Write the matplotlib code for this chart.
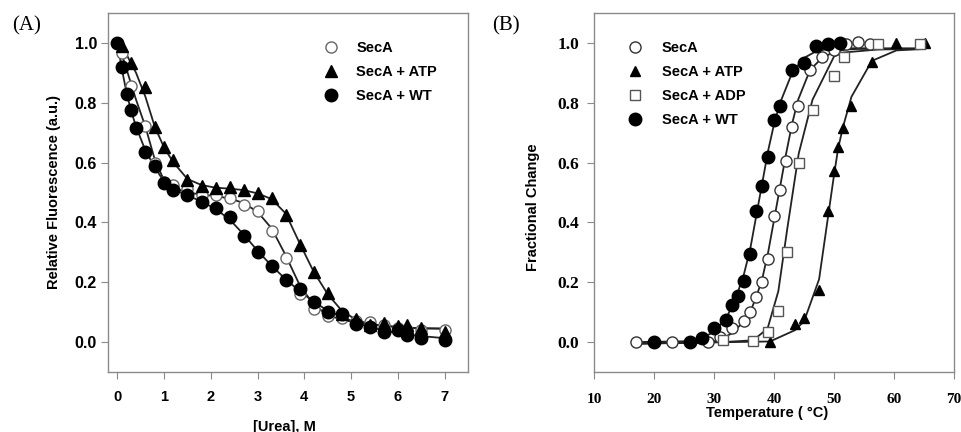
import matplotlib
matplotlib.use("Agg")
import matplotlib.pyplot as plt

# ---------------- Panel A data: urea denaturation ----------------
urea_wt = [0, 0.1, 0.2, 0.3, 0.4, 0.6, 0.8, 1.0, 1.2, 1.5, 1.8, 2.1, 2.4, 2.7, 3.0,
           3.3, 3.6, 3.9, 4.2, 4.5, 4.8, 5.1, 5.4, 5.7, 6.0, 6.2, 6.5, 7.0]
fluo_wt = [1.0, 0.92, 0.83, 0.775, 0.714, 0.634, 0.588, 0.531, 0.508, 0.49, 0.469, 0.448,
           0.418, 0.356, 0.30, 0.255, 0.207, 0.177, 0.134, 0.102, 0.094, 0.061, 0.049,
           0.034, 0.041, 0.022, 0.013, 0.008]

urea_seca = [0, 0.1, 0.3, 0.6, 0.8, 1.0, 1.2, 1.5, 1.8, 2.1, 2.4, 2.7, 3.0, 3.3, 3.6,
             3.9, 4.2, 4.5, 4.8, 5.1, 5.4, 5.7, 6.0, 6.2, 6.5, 7.0]
fluo_seca = [1.0, 0.967, 0.856, 0.723, 0.60, 0.535, 0.525, 0.512, 0.493, 0.492, 0.481,
             0.459, 0.438, 0.371, 0.282, 0.16, 0.111, 0.088, 0.08, 0.069, 0.067, 0.058,
             0.047, 0.041, 0.039, 0.039]

urea_atp = [0.1, 0.3, 0.6, 0.8, 1.0, 1.2, 1.5, 1.8, 2.1, 2.4, 2.7, 3.0, 3.3, 3.6, 3.9,
            4.2, 4.5, 4.8, 5.1, 5.4, 5.7, 6.0, 6.2, 6.5, 7.0]
fluo_atp = [0.99, 0.933, 0.853, 0.72, 0.653, 0.607, 0.542, 0.523, 0.514, 0.518, 0.509,
            0.498, 0.482, 0.424, 0.324, 0.235, 0.165, 0.095, 0.076, 0.058, 0.065, 0.054,
            0.058, 0.047, 0.035]

# fitted curves
urea_fit = [0, 0.1, 0.2, 0.3, 0.4, 0.6, 0.8, 1.0, 1.2, 1.5, 1.8, 2.1, 2.4, 2.7, 3.0,
            3.3, 3.6, 3.9, 4.2, 4.5, 4.8, 5.1, 5.4, 5.7, 6.0, 6.2, 6.5, 7.0]
fit_wt = [1.0, 0.91, 0.83, 0.77, 0.72, 0.64, 0.585, 0.535, 0.51, 0.49, 0.47, 0.445, 0.41,
          0.36, 0.305, 0.255, 0.21, 0.17, 0.135, 0.105, 0.085, 0.065, 0.05, 0.038, 0.03,
          0.025, 0.02, 0.013]
fit_seca = [1.0, 0.96, 0.91, 0.86, 0.81, 0.72, 0.61, 0.54, 0.515, 0.50, 0.493, 0.488,
            0.48, 0.465, 0.435, 0.38, 0.29, 0.19, 0.125, 0.09, 0.075, 0.065, 0.06, 0.055,
            0.05, 0.048, 0.046, 0.045]
fit_atp = [1.0, 0.985, 0.96, 0.93, 0.90, 0.82, 0.72, 0.65, 0.60, 0.545, 0.525, 0.516,
           0.513, 0.508, 0.497, 0.478, 0.43, 0.33, 0.235, 0.16, 0.105, 0.075, 0.06, 0.055,
           0.05, 0.048, 0.046, 0.045]

# ---------------- Panel B data: thermal denaturation ----------------
temp_seca = [17, 23, 29, 31, 33, 35, 36, 37, 38, 39, 40, 41, 42, 43, 44, 46, 48, 50, 52, 54, 56]
frac_seca = [0.0, 0.0, 0.0, 0.017, 0.047, 0.071, 0.102, 0.152, 0.2, 0.277, 0.42, 0.507,
             0.604, 0.72, 0.79, 0.908, 0.952, 0.978, 0.997, 1.003, 0.998]

temp_atp = [39.3, 43.5, 45.0, 47.5, 49.0, 50.0, 50.7, 51.5, 52.9, 56.3, 60.4, 65.2]
frac_atp = [0.0, 0.06, 0.08, 0.174, 0.438, 0.573, 0.651, 0.717, 0.789, 0.937, 1.0, 1.0]

temp_adp = [31.5, 36.5, 38.9, 40.7, 42.2, 44.1, 46.4, 50.0, 51.6, 57.3, 64.4]
frac_adp = [0.008, 0.004, 0.035, 0.105, 0.30, 0.60, 0.775, 0.889, 0.952, 0.998, 0.998]

temp_wt = [20, 26, 28, 30, 32, 33, 34, 35, 36, 37, 38, 39, 40, 41, 43, 45, 47, 49, 51]
frac_wt = [0.0, 0.0, 0.015, 0.047, 0.074, 0.124, 0.154, 0.204, 0.294, 0.438, 0.521,
           0.617, 0.743, 0.789, 0.908, 0.933, 0.989, 0.997, 1.0]

# fitted curves
tfit_seca = [17, 29, 31, 33, 35, 36, 37, 38, 39, 40, 41, 42, 43, 44, 46, 48, 50, 52, 54, 65]
ffit_seca = [-0.005, -0.002, 0.008, 0.03, 0.07, 0.10, 0.15, 0.21, 0.30, 0.41, 0.52, 0.63,
             0.73, 0.81, 0.91, 0.95, 0.97, 0.978, 0.98, 0.98]
tfit_atp = [17, 39.3, 43.5, 45.0, 47.5, 49.0, 50.0, 50.7, 51.5, 52.9, 56.3, 60.4, 65.2]
ffit_atp = [-0.005, 0.002, 0.04, 0.07, 0.21, 0.42, 0.56, 0.65, 0.72, 0.82, 0.94, 0.975, 0.98]
tfit_adp = [17, 31.5, 36.5, 38.9, 40.7, 42.2, 44.1, 46.4, 50.0, 51.6, 57.3, 65]
ffit_adp = [-0.005, 0.0, 0.006, 0.045, 0.17, 0.38, 0.63, 0.81, 0.955, 0.968, 0.978, 0.98]
tfit_wt = [17, 26, 28, 30, 32, 33, 34, 35, 36, 37, 38, 39, 40, 41, 43, 45, 47, 49, 51, 65]
ffit_wt = [0.0, 0.003, 0.013, 0.035, 0.08, 0.12, 0.17, 0.23, 0.31, 0.42, 0.53, 0.64,
           0.73, 0.80, 0.90, 0.95, 0.972, 0.98, 0.982, 0.982]

xticks_a = [0, 1, 2, 3, 4, 5, 6, 7]
xticks_b = [10, 20, 30, 40, 50, 60, 70]
yticks = [0.0, 0.2, 0.4, 0.6, 0.8, 1.0]

# ---------------- Figure ----------------
fig = plt.figure(figsize=(9.61, 4.32), dpi=100)
axA = fig.add_axes([0.1124, 0.1389, 0.3746, 0.831])
axB = fig.add_axes([0.6184, 0.1389, 0.3743, 0.831])

sans = "Liberation Sans"
serif = "Liberation Serif"
frame_col = "#8a8a8a"
line_kw = dict(color="#222222", lw=1.3, zorder=2)
ms = 8

# Panel A
axA.plot(urea_fit, fit_seca, **line_kw)
axA.plot(urea_fit, fit_atp, **line_kw)
axA.plot(urea_fit, fit_wt, **line_kw)
axA.plot(urea_seca, fluo_seca, 'o', ms=ms, mfc='white', mec='#666666', mew=1.0,
         ls='none', label='SecA', zorder=3)
axA.plot(urea_atp, fluo_atp, '^', ms=ms, mfc='black', mec='black', ls='none',
         label='SecA + ATP', zorder=3)
axA.plot(urea_wt, fluo_wt, 'o', ms=ms + 1, mfc='black', mec='black', ls='none',
         label='SecA + WT', zorder=4)

axA.set_xlim(-0.2, 7.5)
axA.set_ylim(-0.1, 1.1)
axA.set_xticks(xticks_a)
axA.set_xticklabels([str(v) for v in xticks_a])
axA.set_yticks(yticks)
axA.set_yticklabels([f"{v:.1f}" for v in yticks])
for lab in axA.get_xticklabels():
    lab.set_fontfamily(sans)
    lab.set_fontweight('bold')
    lab.set_fontsize(10.5)
for lab in axA.get_yticklabels():
    lab.set_fontfamily(sans)
    lab.set_fontweight('bold')
    lab.set_fontsize(11.5)
axA.tick_params(axis='x', direction='out', length=5, color=frame_col, pad=8)
axA.tick_params(axis='y', direction='out', length=5, color=frame_col, pad=3)
axA.set_ylabel("Relative Fluorescence (a.u.)", fontfamily=sans, fontweight='bold', fontsize=10.5)
axA.yaxis.set_label_coords(-0.13, 0.5)
axA.set_xlabel("[Urea], M", fontfamily=sans, fontweight='bold', fontsize=10.5)
axA.xaxis.set_label_coords(0.49, -0.133)
legA = axA.legend(loc='upper left', bbox_to_anchor=(0.6, 0.921), frameon=False,
                  prop={'family': sans, 'weight': 'bold', 'size': 10.5},
                  handlelength=1.0, handletextpad=1.2, labelspacing=0.68, borderpad=0,
                  borderaxespad=0)

# Panel B
axB.plot(tfit_seca, ffit_seca, **line_kw)
axB.plot(tfit_atp, ffit_atp, **line_kw)
axB.plot(tfit_adp, ffit_adp, **line_kw)
axB.plot(tfit_wt, ffit_wt, **line_kw)
axB.plot(temp_seca, frac_seca, 'o', ms=ms, mfc='white', mec='#333333', mew=1.0,
         ls='none', label='SecA', zorder=3)
axB.plot(temp_atp, frac_atp, '^', ms=ms - 0.5, mfc='black', mec='black', ls='none',
         label='SecA + ATP', zorder=3)
axB.plot(temp_adp, frac_adp, 's', ms=ms - 1, mfc='white', mec='#555555', mew=1.0,
         ls='none', label='SecA + ADP', zorder=3)
axB.plot(temp_wt, frac_wt, 'o', ms=ms + 1, mfc='black', mec='black', ls='none',
         label='SecA + WT', zorder=4)

axB.set_xlim(10, 70)
axB.set_ylim(-0.1, 1.1)
axB.set_xticks(xticks_b)
axB.set_xticklabels([str(v) for v in xticks_b])
axB.set_yticks(yticks)
axB.set_yticklabels([f"{v:.1f}" for v in yticks])
for lab in axB.get_xticklabels():
    lab.set_fontfamily(serif)
    lab.set_fontweight('bold')
    lab.set_fontsize(11)
for lab in axB.get_yticklabels():
    lab.set_fontfamily(serif)
    lab.set_fontweight('bold')
    lab.set_fontsize(12.5)
axB.tick_params(axis='x', direction='out', length=5, color=frame_col, pad=10)
axB.tick_params(axis='y', direction='out', length=5, color=frame_col, pad=6)
axB.set_ylabel("Fractional Change", fontfamily=sans, fontweight='bold', fontsize=10.5)
axB.yaxis.set_label_coords(-0.152, 0.46)
axB.set_xlabel("Temperature ( °C)", fontfamily=sans, fontweight='bold', fontsize=10.5)
axB.xaxis.set_label_coords(0.48, -0.095)
legB = axB.legend(loc='upper left', bbox_to_anchor=(0.093, 0.921), frameon=False,
                  prop={'family': sans, 'weight': 'bold', 'size': 10.5},
                  handlelength=1.0, handletextpad=1.35, labelspacing=0.68, borderpad=0,
                  borderaxespad=0)

for ax in (axA, axB):
    for sp in ax.spines.values():
        sp.set_color(frame_col)
        sp.set_linewidth(1.0)

fig.text(12 / 961, 1 - 16 / 432, "(A)", fontfamily=serif, fontsize=15, ha='left', va='top')
fig.text(492 / 961, 1 - 16 / 432, "(B)", fontfamily=serif, fontsize=15, ha='left', va='top')

fig.savefig("out.png", dpi=100)
